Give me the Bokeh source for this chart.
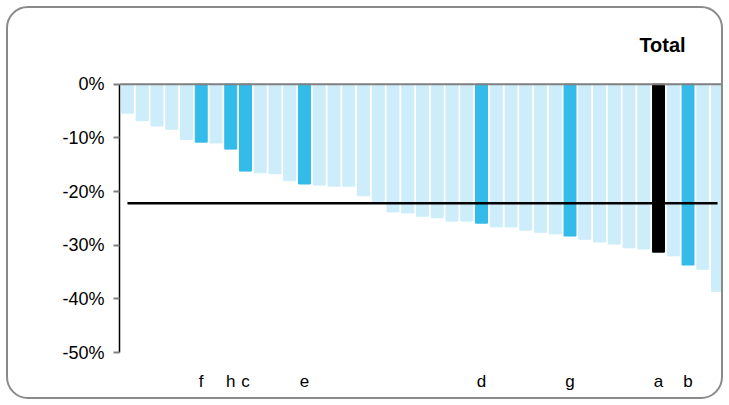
from bokeh.plotting import figure
from bokeh.models import ColumnDataSource, FixedTicker, NumeralTickFormatter, Span
from bokeh.core.properties import value
from bokeh.embed import file_html
from bokeh.resources import INLINE

# ---- data (percent change) ----
values = [-5.4, -6.8, -7.8, -8.4, -10.3, -10.8, -10.95, -12.1, -16.2, -16.5,
          -16.7, -18.0, -18.6, -18.8, -19.0, -19.0, -20.8, -21.8, -23.8, -24.0,
          -24.6, -24.9, -25.5, -25.5, -25.9, -26.6, -26.6, -27.2, -27.6, -27.9,
          -28.3, -28.9, -29.4, -29.8, -30.5, -30.7, -31.3, -32.0, -33.7, -34.5,
          -38.6]
labels = ["", "", "", "", "", "f", "", "h", "c", "", "", "", "e", "", "", "", "", "", "", "",
          "", "", "", "", "d", "", "", "", "", "", "g", "", "", "", "", "", "a", "", "b", "", ""]
kinds = ["other"] * 41
for i, l in enumerate(labels):
    if l:
        kinds[i] = "highlight"
kinds[labels.index("a")] = "total"
average = -22.2
y_ticks = [0, -10, -20, -30, -40, -50]
title_text = "Total"

color_map = {"other": "#CCEDF9", "highlight": "#33BBEA", "total": "#000000"}

n = len(values)
xs = list(range(1, n + 1))
src = ColumnDataSource(dict(
    x=xs,
    top=[0.0] * n,
    bottom=[v / 100 for v in values],
    color=[color_map[k] for k in kinds],
))

y_lo = min(y_ticks) / 100
y_hi = max(y_ticks) / 100
p = figure(width=717, height=393, x_range=(0.46, n + 0.54), y_range=(y_lo, 0.1),
           output_backend="svg", toolbar_location=None,
           min_border_left=111, min_border_right=0, min_border_top=22, min_border_bottom=49)
p.styles = {"border": "2px solid #8a8a8a", "border-radius": "22px", "background": "white",
            "margin-left": "6px", "margin-top": "6px"}
p.background_fill_color = None
p.border_fill_color = None
p.outline_line_color = None
p.xgrid.visible = False
p.ygrid.visible = False

font = "Liberation Sans"

p.vbar(x="x", width=0.81, top="top", bottom="bottom", color="color", source=src)

p.add_layout(Span(location=0, dimension="width", line_color="#808080", line_width=2))
p.line(x=[xs[0], xs[-1]], y=[average / 100] * 2, line_color="black", line_width=2.5)

total_x = xs[kinds.index("total")]
p.text(x=[total_x], y=[0.073], text=[title_text], text_font=value(font),
       text_font_size="20px", text_font_style="bold", text_align="center",
       text_baseline="middle", text_color="black", x_offset=4)

# y axis
yax = p.yaxis[0]
yax.bounds = (y_lo, y_hi)
yax.ticker = FixedTicker(ticks=[t / 100 for t in y_ticks])
yax.formatter = NumeralTickFormatter(format="0%")
yax.axis_line_color = "black"
yax.axis_line_width = 1.5
yax.major_tick_line_color = "#808080"
yax.major_tick_line_width = 2
yax.major_tick_out = 6
yax.major_tick_in = 0
yax.minor_tick_line_color = None
yax.major_label_text_font = font
yax.major_label_text_font_size = "18px"
yax.major_label_text_color = "black"
yax.major_label_standoff = 9

# x axis with category letters
xax = p.xaxis[0]
lab_x = [x for x, l in zip(xs, labels) if l]
xax.ticker = FixedTicker(ticks=lab_x)
xax.major_label_overrides = {x: l for x, l in zip(xs, labels) if l}
xax.axis_line_color = None
xax.major_tick_line_color = None
xax.minor_tick_line_color = None
xax.major_tick_out = 0
xax.major_tick_in = 0
xax.major_label_text_font = font
xax.major_label_text_font_size = "17px"
xax.major_label_text_color = "black"
xax.major_label_standoff = 19

open("out.html", "w").write(file_html(p, INLINE))
